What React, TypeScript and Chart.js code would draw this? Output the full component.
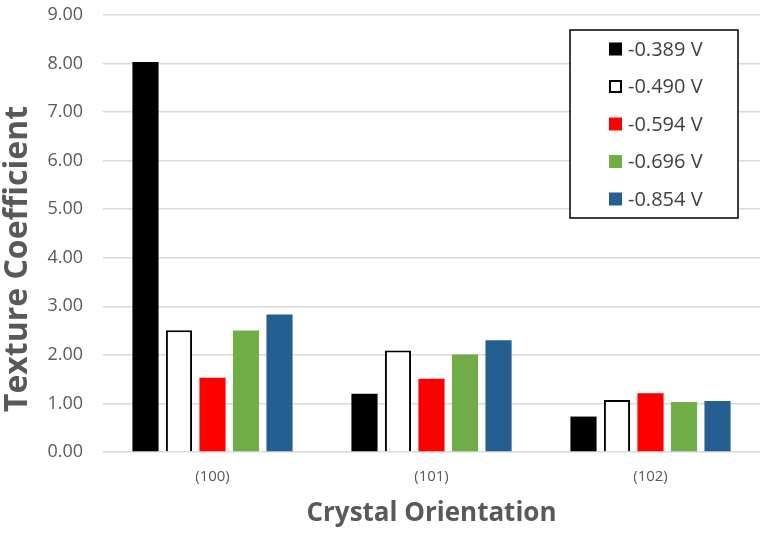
import React, { useEffect, useRef } from "react";
import { Chart, registerables } from "chart.js";

Chart.register(...registerables);

const categories = ["(100)", "(101)", "(102)"];
const seriesLabels = ["-0.389 V", "-0.490 V", "-0.594 V", "-0.696 V", "-0.854 V"];
const v389 = [8.03, 1.2, 0.73];
const v490 = [2.51, 2.09, 1.07];
const v594 = [1.53, 1.51, 1.21];
const v696 = [2.5, 2.01, 1.03];
const v854 = [2.83, 2.3, 1.05];
const seriesValues = [v389, v490, v594, v696, v854];
const fills = ["#000000", "#ffffff", "#ff0000", "#70ad47", "#255e91"];
const borders = ["#000000", "#000000", "#ff0000", "#70ad47", "#255e91"];
const borderWidths = [0, 2, 0, 0, 0];
const yTicks = [0, 1, 2, 3, 4, 5, 6, 7, 8, 9];
const yTitle = "Texture Coefficient";
const xTitle = "Crystal Orientation";

const FONT = "'Open Sans', 'Noto Sans', sans-serif";

const boxLegend = {
  id: "boxLegend",
  afterDraw(chart: any) {
    const ctx = chart.ctx;
    const x0 = 570, y0 = 30, w = 168, h = 188;
    ctx.save();
    ctx.fillStyle = "#ffffff";
    ctx.fillRect(x0, y0, w, h);
    ctx.strokeStyle = "#000000";
    ctx.lineWidth = 1.5;
    ctx.strokeRect(x0, y0, w, h);
    ctx.font = `20px ${FONT}`;
    ctx.textBaseline = "middle";
    chart.data.datasets.forEach((ds: any, i: number) => {
      const cy = y0 + 19 + i * 37.5;
      const sx = 609, s = 13;
      ctx.fillStyle = ds.backgroundColor;
      ctx.fillRect(sx, cy - s / 2, s, s);
      if (ds.borderWidth > 0) {
        ctx.strokeStyle = ds.borderColor;
        ctx.lineWidth = 2;
        ctx.strokeRect(sx + 1, cy - s / 2 + 1, s - 2, s - 2);
      }
      ctx.fillStyle = "#404040";
      ctx.textAlign = "left";
      ctx.fillText(ds.label, 628, cy + 1);
    });
    ctx.restore();
  },
};

const yTitlePlugin = {
  id: "yTitlePlugin",
  afterDraw(chart: any) {
    const ctx = chart.ctx;
    ctx.save();
    ctx.translate(27, 259);
    ctx.rotate(-Math.PI / 2);
    ctx.font = `bold 32px ${FONT}`;
    ctx.fillStyle = "#595959";
    ctx.textAlign = "center";
    ctx.textBaseline = "alphabetic";
    ctx.fillText(yTitle, 0, 0);
    ctx.restore();
  },
};

export default function App() {
  const ref = useRef<HTMLCanvasElement>(null);
  useEffect(() => {
    if (!ref.current) return;
    const chart = new Chart(ref.current, {
      type: "bar",
      data: {
        labels: categories,
        datasets: seriesLabels.map((label, i) => ({
          label,
          data: seriesValues[i],
          backgroundColor: fills[i],
          borderColor: borders[i],
          borderWidth: borderWidths[i],
          categoryPercentage: 0.765,
          barPercentage: 0.78,
        })),
      },
      options: {
        animation: false,
        responsive: false,
        devicePixelRatio: 1,
        layout: { padding: { top: 15, right: 5, left: 0, bottom: 0 } },
        plugins: { legend: { display: false }, tooltip: { enabled: false } },
        scales: {
          x: {
            grid: { display: false },
            border: { display: false },
            ticks: { color: "#595959", font: { family: FONT, size: 15 }, padding: 8 },
            title: {
              display: true,
              text: xTitle,
              color: "#595959",
              font: { family: FONT, size: 26, weight: "bold" },
              padding: { top: 0, bottom: 5 },
            },
            afterFit(scale: any) {
              scale.height = 82;
            },
          },
          y: {
            min: 0,
            max: 9,
            afterBuildTicks(scale: any) {
              scale.ticks = yTicks.map((v) => ({ value: v }));
            },
            grid: { color: "#d9d9d9", lineWidth: 1.5, drawTicks: false },
            border: { display: false },
            ticks: {
              color: "#595959",
              font: { family: FONT, size: 18 },
              padding: 20,
              callback: (v: any) => Number(v).toFixed(2),
            },
            title: { display: false },
            afterFit(scale: any) {
              scale.width = 103;
              scale.paddingTop = 0;
              scale.paddingBottom = 0;
            },
          },
        },
      },
      plugins: [boxLegend, yTitlePlugin],
    });
    return () => chart.destroy();
  }, []);
  return (
    <div style={{ position: "fixed", left: 0, top: 0, width: 765, height: 534, background: "#fff" }}>
      <canvas ref={ref} width={765} height={534} style={{ width: 765, height: 534 }} />
    </div>
  );
}
